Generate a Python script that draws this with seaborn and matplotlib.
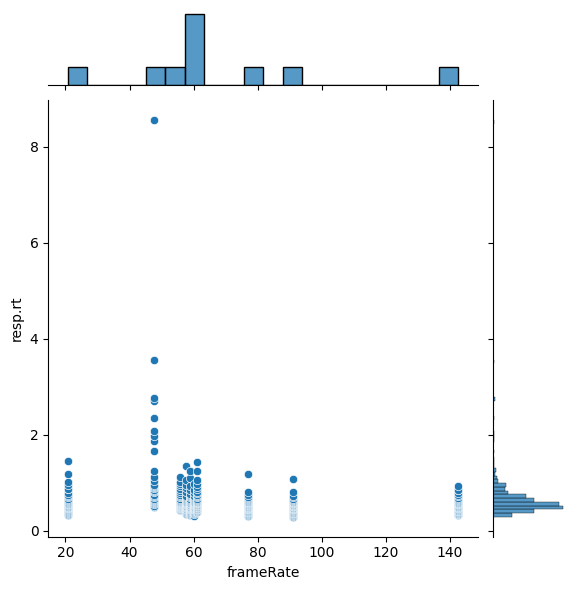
import pandas as pd
import matplotlib
matplotlib.use("Agg")
import matplotlib.pyplot as plt
import seaborn as sns

# frame rate of each participant's screen
frame_rates = [20.7, 47.6, 55.8, 57.7, 59.0, 60.0, 61.2, 77.0, 91.0, 142.7]

# response times per participant
rt_p1 = [0.32, 0.34, 0.38, 0.40, 0.42, 0.43, 0.46, 0.47, 0.48, 0.49, 0.50, 0.51,
         0.54, 0.55, 0.56, 0.57, 0.59, 0.62, 0.64, 0.66, 0.70, 0.72, 0.74, 0.79,
         0.87, 0.88, 0.95, 1.01, 1.19, 1.46]
rt_p2 = [0.50, 0.52, 0.55, 0.58, 0.60, 0.63, 0.65, 0.67, 0.70, 0.72, 0.74, 0.80,
         0.82, 0.86, 0.90, 0.92, 0.94, 0.96, 1.03, 1.11, 1.24, 1.67, 1.86, 1.97,
         2.07, 2.35, 2.71, 2.76, 3.55, 8.55]
rt_p3 = [0.43, 0.44, 0.46, 0.47, 0.48, 0.49, 0.50, 0.51, 0.52, 0.53, 0.54, 0.55,
         0.56, 0.57, 0.58, 0.59, 0.61, 0.63, 0.65, 0.67, 0.70, 0.72, 0.75, 0.78,
         0.82, 0.88, 0.93, 0.97, 1.02, 1.13]
rt_p4 = [0.35, 0.38, 0.40, 0.42, 0.44, 0.45, 0.46, 0.48, 0.49, 0.50, 0.51, 0.52,
         0.53, 0.55, 0.56, 0.57, 0.58, 0.60, 0.61, 0.63, 0.64, 0.66, 0.69, 0.71,
         0.73, 0.80, 0.89, 0.96, 1.05, 1.34]
rt_p5 = [0.33, 0.35, 0.37, 0.39, 0.41, 0.43, 0.45, 0.46, 0.47, 0.48, 0.49, 0.50,
         0.51, 0.53, 0.54, 0.56, 0.57, 0.58, 0.59, 0.62, 0.64, 0.66, 0.70, 0.72,
         0.74, 0.77, 0.85, 0.94, 1.09, 1.24]
rt_p6 = [0.31, 0.34, 0.37, 0.39, 0.41, 0.43, 0.45, 0.46, 0.47, 0.48, 0.49, 0.50,
         0.52, 0.53, 0.54, 0.55, 0.56, 0.57, 0.58, 0.59, 0.61, 0.62, 0.64, 0.66,
         0.69, 0.71, 0.73, 0.79, 0.86, 0.98]
rt_p7 = [0.40, 0.42, 0.44, 0.45, 0.46, 0.47, 0.49, 0.50, 0.51, 0.53, 0.54, 0.56,
         0.57, 0.58, 0.60, 0.61, 0.63, 0.65, 0.67, 0.70, 0.72, 0.75, 0.78, 0.81,
         0.87, 0.92, 0.97, 1.06, 1.24, 1.44]
rt_p8 = [0.31, 0.33, 0.35, 0.37, 0.39, 0.40, 0.42, 0.44, 0.45, 0.46, 0.47, 0.48,
         0.49, 0.50, 0.52, 0.53, 0.54, 0.55, 0.57, 0.58, 0.60, 0.61, 0.63, 0.65,
         0.67, 0.69, 0.71, 0.74, 0.80, 1.19]
rt_p9 = [0.29, 0.30, 0.32, 0.34, 0.37, 0.38, 0.40, 0.42, 0.44, 0.45, 0.46, 0.47,
         0.48, 0.50, 0.51, 0.52, 0.53, 0.54, 0.56, 0.57, 0.58, 0.59, 0.61, 0.63,
         0.65, 0.66, 0.70, 0.73, 0.80, 1.08]
rt_p10 = [0.33, 0.34, 0.36, 0.38, 0.39, 0.41, 0.42, 0.44, 0.45, 0.47, 0.48, 0.49,
          0.50, 0.52, 0.53, 0.55, 0.56, 0.57, 0.58, 0.59, 0.62, 0.64, 0.66, 0.69,
          0.72, 0.74, 0.78, 0.84, 0.86, 0.93]

all_rts = [rt_p1, rt_p2, rt_p3, rt_p4, rt_p5, rt_p6, rt_p7, rt_p8, rt_p9, rt_p10]

rows = [(fr, rt) for fr, rts in zip(frame_rates, all_rts) for rt in rts]
df = pd.DataFrame(rows, columns=["frameRate", "resp.rt"])

# joint plot: scatter in the middle, histograms on the margins
g = sns.JointGrid(data=df, x="frameRate", y="resp.rt", height=6)
g.plot_joint(sns.scatterplot)
sns.histplot(data=df, x="frameRate", bins=20, ax=g.ax_marg_x)
sns.histplot(data=df, y="resp.rt", bins=106, ax=g.ax_marg_y)

plt.savefig("out.png", dpi=100, bbox_inches="tight")
